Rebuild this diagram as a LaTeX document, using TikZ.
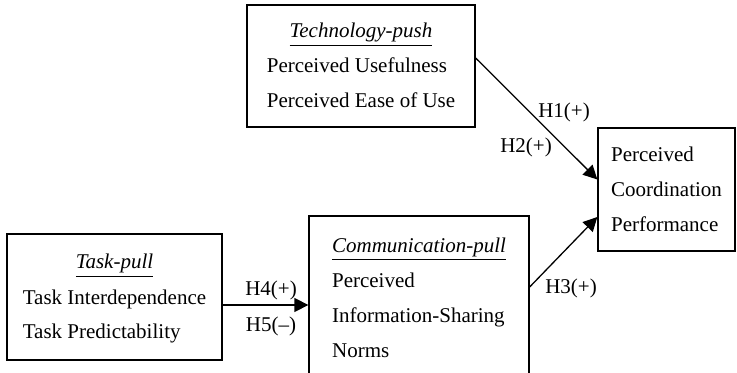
\documentclass[tikz,border=0pt]{standalone}
\usepackage{fontspec}
\setmainfont{Liberation Serif}
\usetikzlibrary{arrows.meta}

% Konstrukt: Titel (kursiv, unterstrichen) ueber linksbuendigen Zeilen
\newcommand{\konstrukt}[2]{%
  \begin{tabular}{@{}l@{}}\multicolumn{1}{@{}c@{}}{\underline{\textit{#1}}}\\#2\end{tabular}}

\begin{document}
\begin{tikzpicture}[x=0.5pt,y=-0.5pt,
  every node/.style={font=\fontsize{10.5}{17.5}\selectfont},
  kasten/.style={draw, line width=0.65pt, inner sep=0pt},
  pfeil/.style={-{Triangle[length=7pt,width=7pt]}, line width=0.65pt},
  hyp/.style={inner sep=0pt}]

\useasboundingbox (0,0) rectangle (737,373);
\clip (0,0) rectangle (737,373);

% ------------------- Kaesten -------------------
\node[kasten, minimum width=114pt, minimum height=61pt] (tech) at (361,66)
  {\konstrukt{Technology-push}{Perceived Usefulness\\Perceived Ease of Use}};

\node[kasten, minimum width=68.5pt, minimum height=61.5pt] (perf) at (666.5,189.5)
  {\begin{tabular}{@{}l@{}}Perceived\\Coordination\\Performance\end{tabular}};

\node[kasten, minimum width=107.5pt, minimum height=63pt] (task) at (114.5,297)
  {\konstrukt{Task-pull}{Task Interdependence\\Task Predictability}};

\node[kasten, minimum width=110pt, minimum height=82pt] (comm) at (419,298)
  {\konstrukt{Communication-pull}{Perceived\\Information-Sharing\\Norms}};

% ------------------- Pfeile -------------------
\draw[pfeil] ([yshift=4pt]tech.east) -- ([yshift=5pt]perf.west);
\draw[pfeil] ([yshift=5.5pt]comm.east) -- ([yshift=-13.75pt]perf.west);
\draw[pfeil] ([yshift=-4pt]task.east) -- ([yshift=-4pt]task.east -| comm.west);

% Hypothesen
\node[hyp] (h1) at (564,112) {H1(+)};
\node[hyp] (h2) at (526,147) {H2(+)};
\node[hyp] (h3) at (571,288) {H3(+)};
\node[hyp] (h4) at (271,290) {H4(+)};
\node[hyp] (h5) at (271,326) {H5(--)};

\end{tikzpicture}
\end{document}
